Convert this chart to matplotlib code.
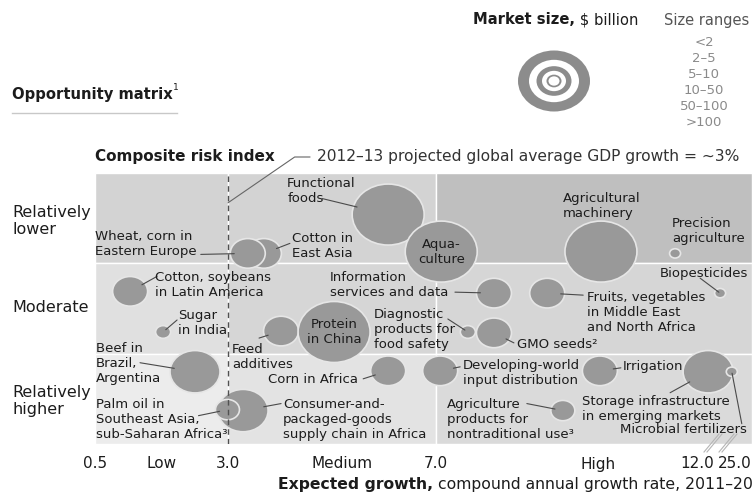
import numpy as np
import matplotlib
matplotlib.use("Agg")
import matplotlib.pyplot as plt
from matplotlib.path import Path
from matplotlib.transforms import Affine2D
from matplotlib.patches import Rectangle
from matplotlib.lines import Line2D

# ---------------- data ----------------
markets = [
    "Functional foods", "Agricultural machinery", "Aquaculture",
    "Precision agriculture", "Cotton in East Asia", "Wheat, corn in Eastern Europe",
    "Cotton, soybeans in Latin America", "Sugar in India",
    "Information services and data", "Fruits, vegetables in MENA",
    "Biopesticides", "Feed additives", "Protein in China",
    "Diagnostic products for food safety", "GMO seeds",
    "Beef in Brazil, Argentina", "Corn in Africa",
    "Developing-world input distribution", "Irrigation",
    "Storage infrastructure", "Microbial fertilizers",
    "Consumer-and-packaged-goods supply chain", "Palm oil",
    "Agriculture products for nontraditional use",
]
# expected growth, CAGR 2011-20 (%)
growth = [6.08, 10.16, 7.10, 11.58, 3.69, 3.38, 1.16, 1.78, 8.11, 9.13,
          19.9, 4.02, 5.04, 7.61, 8.11, 2.38, 6.08, 7.08, 10.14, 15.8,
          23.9, 3.29, 2.99, 9.43]
# composite risk index (0 = lowest risk, 3 = highest)
risk = [0.46, 0.87, 0.87, 0.89, 0.89, 0.89, 1.31, 1.76, 1.33, 1.33,
        1.33, 1.75, 1.76, 1.76, 1.77, 2.20, 2.19, 2.19, 2.19, 2.20,
        2.20, 2.63, 2.62, 2.63]
# market size class (index into size_ranges)
size_class = [5, 5, 5, 0, 3, 3, 3, 1, 3, 3, 0, 3, 5, 1, 3, 4, 3, 3, 3, 4,
              0, 4, 2, 2]

size_ranges = ["<2", "2–5", "5–10", "10–50", "50–100", ">100"]
risk_rows = ["Relatively\nlower", "Moderate", "Relatively\nhigher"]
tick_values = [0.5, 1.75, 3.0, 5.2, 7.0, 10.1, 12.0, 25.0]
tick_labels = ["0.5", "Low", "3.0", "Medium", "7.0", "High", "12.0", "25.0"]
column_edges = [0.5, 3.0, 7.0, 30.8]
gdp_growth = 3.0

# ---------------- styling ----------------
W, H = 755, 495
BUBBLE = "#999999"
BUBBLE_EDGE = "#e6e6e6"
TXT = "#1c1c1c"
LEAD = "#4a4a4a"
half_width_px = [5.5, 7.5, 12, 17.5, 25, 36]   # per size class
ASPECT = 1.18                                  # wide bubbles
cell_colors = [["#d3d3d3", "#d3d3d3", "#bfbfbf"],
               ["#e0e0e0", "#d6d6d6", "#d6d6d6"],
               ["#ececec", "#e3e3e3", "#dadada"]]

# label text, offset of text anchor (px), alignment, leader start offset (px)
labels = {
    "Functional foods": ("Functional\nfoods", (-101, 38), "left", "top", (-66, 16)),
    "Aquaculture": ("Aqua-\nculture", (0, 0), "center", "center", None),
    "Agricultural machinery": ("Agricultural\nmachinery", (-38, 60), "left", "top", None),
    "Precision agriculture": ("Precision\nagriculture", (-3, 36), "left", "top", None),
    "Wheat, corn in Eastern Europe": ("Wheat, corn in\nEastern Europe", (-153, 23), "left", "top", (-47, -1)),
    "Cotton in East Asia": ("Cotton in\nEast Asia", (28, 21), "left", "top", (26, 10)),
    "Cotton, soybeans in Latin America": ("Cotton, soybeans\nin Latin America", (25, 20), "left", "top", (27, 15)),
    "Sugar in India": ("Sugar\nin India", (15, 23), "left", "top", (14, 12)),
    "Information services and data": ("Information\nservices and data", (-164, 22), "left", "top", (-39, 1)),
    "Fruits, vegetables in MENA": ("Fruits, vegetables\nin Middle East\nand North Africa", (40, 2), "left", "top", (36, -2)),
    "Biopesticides": ("Biopesticides", (-60, 26), "left", "top", (-20, 15)),
    "Protein in China": ("Protein\nin China", (0, 0), "center", "center", None),
    "Feed additives": ("Feed\nadditives", (-49, -12), "left", "top", (-22, -7)),
    "Diagnostic products for food safety": ("Diagnostic\nproducts for\nfood safety", (-94, 24), "left", "top", (-20, 13)),
    "GMO seeds": ("GMO seeds²", (23, -12), "left", "center", (20, -10)),
    "Beef in Brazil, Argentina": ("Beef in\nBrazil,\nArgentina", (-99, 30), "left", "top", (-55, 9)),
    "Corn in Africa": ("Corn in Africa", (-30, -9), "right", "center", (-25, -8)),
    "Developing-world input distribution": ("Developing-world\ninput distribution", (23, 12), "left", "top", (20, 4)),
    "Irrigation": ("Irrigation", (23, 4), "left", "center", (21, 3)),
    "Storage infrastructure": ("Storage infrastructure\nin emerging markets", (-126, -23), "left", "top", (-38, -21)),
    "Microbial fertilizers": ("Microbial fertilizers", (15, -58), "right", "center", (10, -52)),
    "Palm oil": ("Palm oil in\nSoutheast Asia,\nsub-Saharan Africa³", (-131, 12), "left", "top", (-29, -6)),
    "Consumer-and-packaged-goods supply chain": ("Consumer-and-\npackaged-goods\nsupply chain in Africa", (40, 13), "left", "top", (38, 7)),
    "Agriculture products for nontraditional use": ("Agriculture\nproducts for\nnontraditional use³", (-116, 13), "left", "top", (-36, 7)),
}


def fx(px):
    return px / W


def fy(py):
    return 1 - py / H


# piecewise growth axis (growth value -> horizontal pixels)
G_BREAKS = [0.5, 3.0, 7.0, 12.0, 25.0, 30.8]
U_BREAKS = [0, 133, 341, 602, 640, 657]


def fwd(x):
    return np.interp(x, G_BREAKS, U_BREAKS)


def inv(u):
    return np.interp(u, U_BREAKS, G_BREAKS)


ellipse = Path.unit_circle().transformed(Affine2D().scale(ASPECT, 1.0))


def marker_area(hw_px):
    return (2 * hw_px * 0.72) ** 2


plt.rcParams["font.family"] = ["DejaVu Sans"]
fig = plt.figure(figsize=(W / 100, H / 100), dpi=100)
ax = fig.add_axes([fx(95), fy(444), 657 / W, 271 / H])
ax.set_xscale("function", functions=(fwd, inv))
ax.set_xlim(column_edges[0], column_edges[-1])
ax.set_ylim(3, 0)
for s in ax.spines.values():
    s.set_visible(False)

# background matrix
for r in range(3):
    for c in range(3):
        ax.add_patch(Rectangle((column_edges[c], r), column_edges[c + 1] - column_edges[c], 1,
                               facecolor=cell_colors[r][c], edgecolor="white", lw=1.0, zorder=0))

ax.axvline(gdp_growth, color="#505050", lw=1.0, ls=(0, (4, 3)), zorder=3)

# bubbles
sizes = [marker_area(half_width_px[k]) for k in size_class]
ax.scatter(growth, risk, s=sizes, marker=ellipse, c=BUBBLE, edgecolors=BUBBLE_EDGE,
           linewidths=1.2, zorder=2)

# labels and leader lines
for name, g, r, k in zip(markets, growth, risk, size_class):
    text, (dx, dy), ha, va, lead = labels[name]
    ax.annotate(text, xy=(g, r), xytext=(dx, dy), textcoords="offset pixels",
                ha=ha, va=va, fontsize=9.5, color=TXT, linespacing=1.2, zorder=5)
    if lead is not None:
        shrink = max(half_width_px[k] - 4, 0) * 0.72
        ax.annotate("", xy=(g, r), xytext=lead, textcoords="offset pixels",
                    arrowprops=dict(arrowstyle="-", color=LEAD, lw=0.8,
                                    shrinkA=0, shrinkB=shrink), zorder=4)

ax.set_xticks(tick_values, tick_labels)
ax.tick_params(axis="x", length=0, pad=9, labelsize=11, colors=TXT)
ax.set_yticks([])

# row labels
row_centres = [221, 307, 401]
for lab, yc in zip(risk_rows, row_centres):
    fig.text(fx(12), fy(yc), lab, ha="left", va="center", fontsize=11.5,
             color=TXT, linespacing=1.15)

# axis break marks
for x0 in (704, 719):
    for off in (0, 3):
        fig.add_artist(Line2D([fx(x0 + off), fx(x0 + off + 15)], [fy(452), fy(434)],
                              color="#b5b5b5", lw=0.8))

# titles
t = fig.text(fx(12), fy(95), "Opportunity matrix", ha="left", va="center",
             fontsize=10.6, fontweight="bold", color=TXT)
ax.annotate("1", xy=(1, 0.72), xycoords=t, ha="left", va="bottom", fontsize=6.5, color=TXT)
fig.add_artist(Line2D([fx(12), fx(177)], [fy(113), fy(113)], color="#c8c8c8", lw=1.0))

fig.text(fx(95), fy(157), "Composite risk index", ha="left", va="center",
         fontsize=11, fontweight="bold", color=TXT)
ax.annotate("2012–13 projected global average GDP growth = ~3%",
            xy=(gdp_growth, 0.33), xycoords="data",
            xytext=(fx(317), fy(157)), textcoords="figure fraction",
            ha="left", va="center", fontsize=11.2, color="#333333",
            arrowprops=dict(arrowstyle="-", color="#666666", lw=0.8,
                            connectionstyle="angle,angleA=0,angleB=34.5,rad=0",
                            relpos=(0, 0.5), shrinkA=3, shrinkB=0))

xt = fig.text(fx(278), fy(484), "Expected growth,", ha="left", va="center",
              fontsize=11.25, fontweight="bold", color=TXT)
ax.annotate(" compound annual growth rate, 2011–20", xy=(1, 0.5), xycoords=xt,
            ha="left", va="center", fontsize=11.25, color=TXT)

# market size legend
mt = fig.text(fx(473), fy(20), "Market size,", ha="left", va="center",
              fontsize=10.6, fontweight="bold", color=TXT)
ax.annotate(" $ billion", xy=(1, 0.5), xycoords=mt, ha="left", va="center",
            fontsize=10.6, color=TXT)
fig.text(fx(707), fy(20), "Size ranges", ha="center", va="center",
         fontsize=10.5, color="#555555")
for i, lab in enumerate(size_ranges):
    fig.text(fx(704), fy(42 + 16.2 * i), lab, ha="center", va="center",
             fontsize=9.5, color="#8a8a8a")

lax = fig.add_axes([fx(554 - 45), fy(81 + 45), 90 / W, 90 / H])
lax.set_xlim(-1, 1)
lax.set_ylim(-1, 1)
lax.axis("off")
order = list(range(len(size_ranges)))[::-1]
lax.scatter([0] * len(order), [0] * len(order),
            s=[marker_area(half_width_px[k]) for k in order], marker=ellipse,
            c=[("#8c8c8c" if j % 2 == 0 else "white") for j in range(len(order))],
            linewidths=0)

fig.savefig("out.png", dpi=100)
